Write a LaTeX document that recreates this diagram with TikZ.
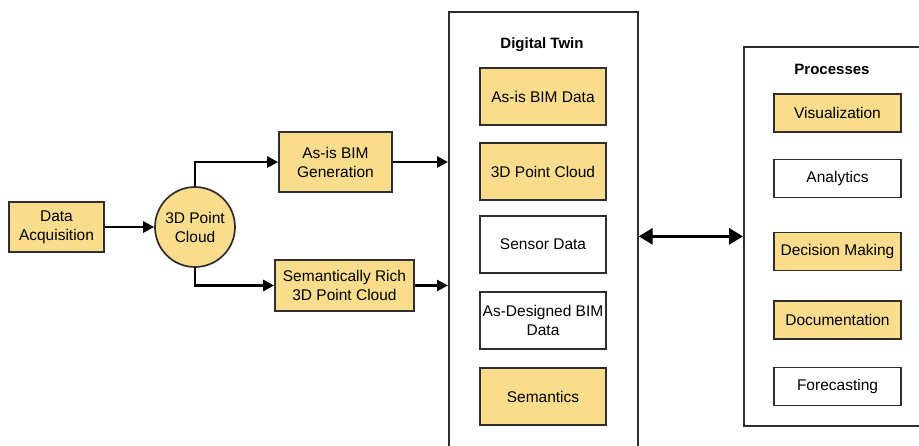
\documentclass[tikz,border=0pt]{standalone}
\usepackage{fontspec}
\setmainfont{Liberation Sans}
\usetikzlibrary{arrows.meta}

\definecolor{boxyellow}{HTML}{F9DD8C}
\definecolor{boxline}{HTML}{2E2E2E}

\begin{document}
\begin{tikzpicture}[x=1pt, y=-1pt, every node/.style={font=\fontsize{15.5}{19}\selectfont, align=center, inner sep=0pt},
	>={Triangle[length=11pt, width=11pt]},
	item/.style={draw=boxline, line width=1.7pt, minimum width=#1},
	yitem/.style={item=#1, fill=boxyellow},
	group/.style={draw=boxline, line width=1.7pt, anchor=north west},
	flow/.style={->, line width=2.6pt}]
	\useasboundingbox (0,0) rectangle (919,445);
	\begin{scope}
		\clip (0,0) rectangle (919,445);
		% containers
		\node[group, minimum width=189pt, minimum height=470pt] (dt) at (448,11) {};
		\node[group, minimum width=200pt, minimum height=379pt] (proc) at (743,46) {};
	\end{scope}
	\node[font=\bfseries\fontsize{15}{19}\selectfont] (dtlab) at (542,45) {Digital Twin};
	\node[font=\bfseries\fontsize{15}{19}\selectfont] (proclab) at (832,69) {Processes};

	% left side
	\node[yitem=95pt, minimum height=50pt] (acq) at (56.5,227) {Data\\Acquisition};
	\node[circle, draw=boxline, line width=1.7pt, fill=boxyellow, minimum size=80pt] (pc) at (195,227) {3D Point\\Cloud};
	\node[yitem=113pt, minimum height=60pt] (bimgen) at (335.5,162) {As-is BIM\\Generation};
	\node[yitem=139pt, minimum height=51pt] (semrich) at (344.5,285.5) {Semantically Rich\\3D Point Cloud};

	% digital twin content
	\foreach \n/\y/\s/\t in {bimdata/96.5/yitem/As-is BIM Data, dtpc/171.5/yitem/3D Point Cloud,
		sensor/244.5/item/Sensor Data, designed/320.5/item/As-Designed BIM\\Data, sem/396.5/yitem/Semantics}
		\node[\s=126pt, minimum height=57pt] (\n) at (543,\y) {\t};

	% processes
	\foreach \n/\y/\s/\t in {vis/113/yitem/Visualization, ana/178.5/item/Analytics,
		dec/251.5/yitem/Decision Making, doc/320/yitem/Documentation, fore/386.5/item/Forecasting}
		\node[\s=127pt, minimum height=38pt] (\n) at (837.5,\y) {\t};

	\draw[flow] (acq) -- (pc);
	\draw[flow] (pc.north) |- (bimgen.west);
	\draw[flow] (pc.south) |- (semrich.west);
	\draw[flow] (bimgen.east) -- (bimgen.east -| dt.west);
	\draw[flow] (semrich.east) -- (semrich.east -| dt.west);
	\draw[<->, line width=3pt, >={Triangle[length=14pt, width=16pt]}] (proc.west -| dt.east) -- (proc.west);
\end{tikzpicture}
\end{document}
